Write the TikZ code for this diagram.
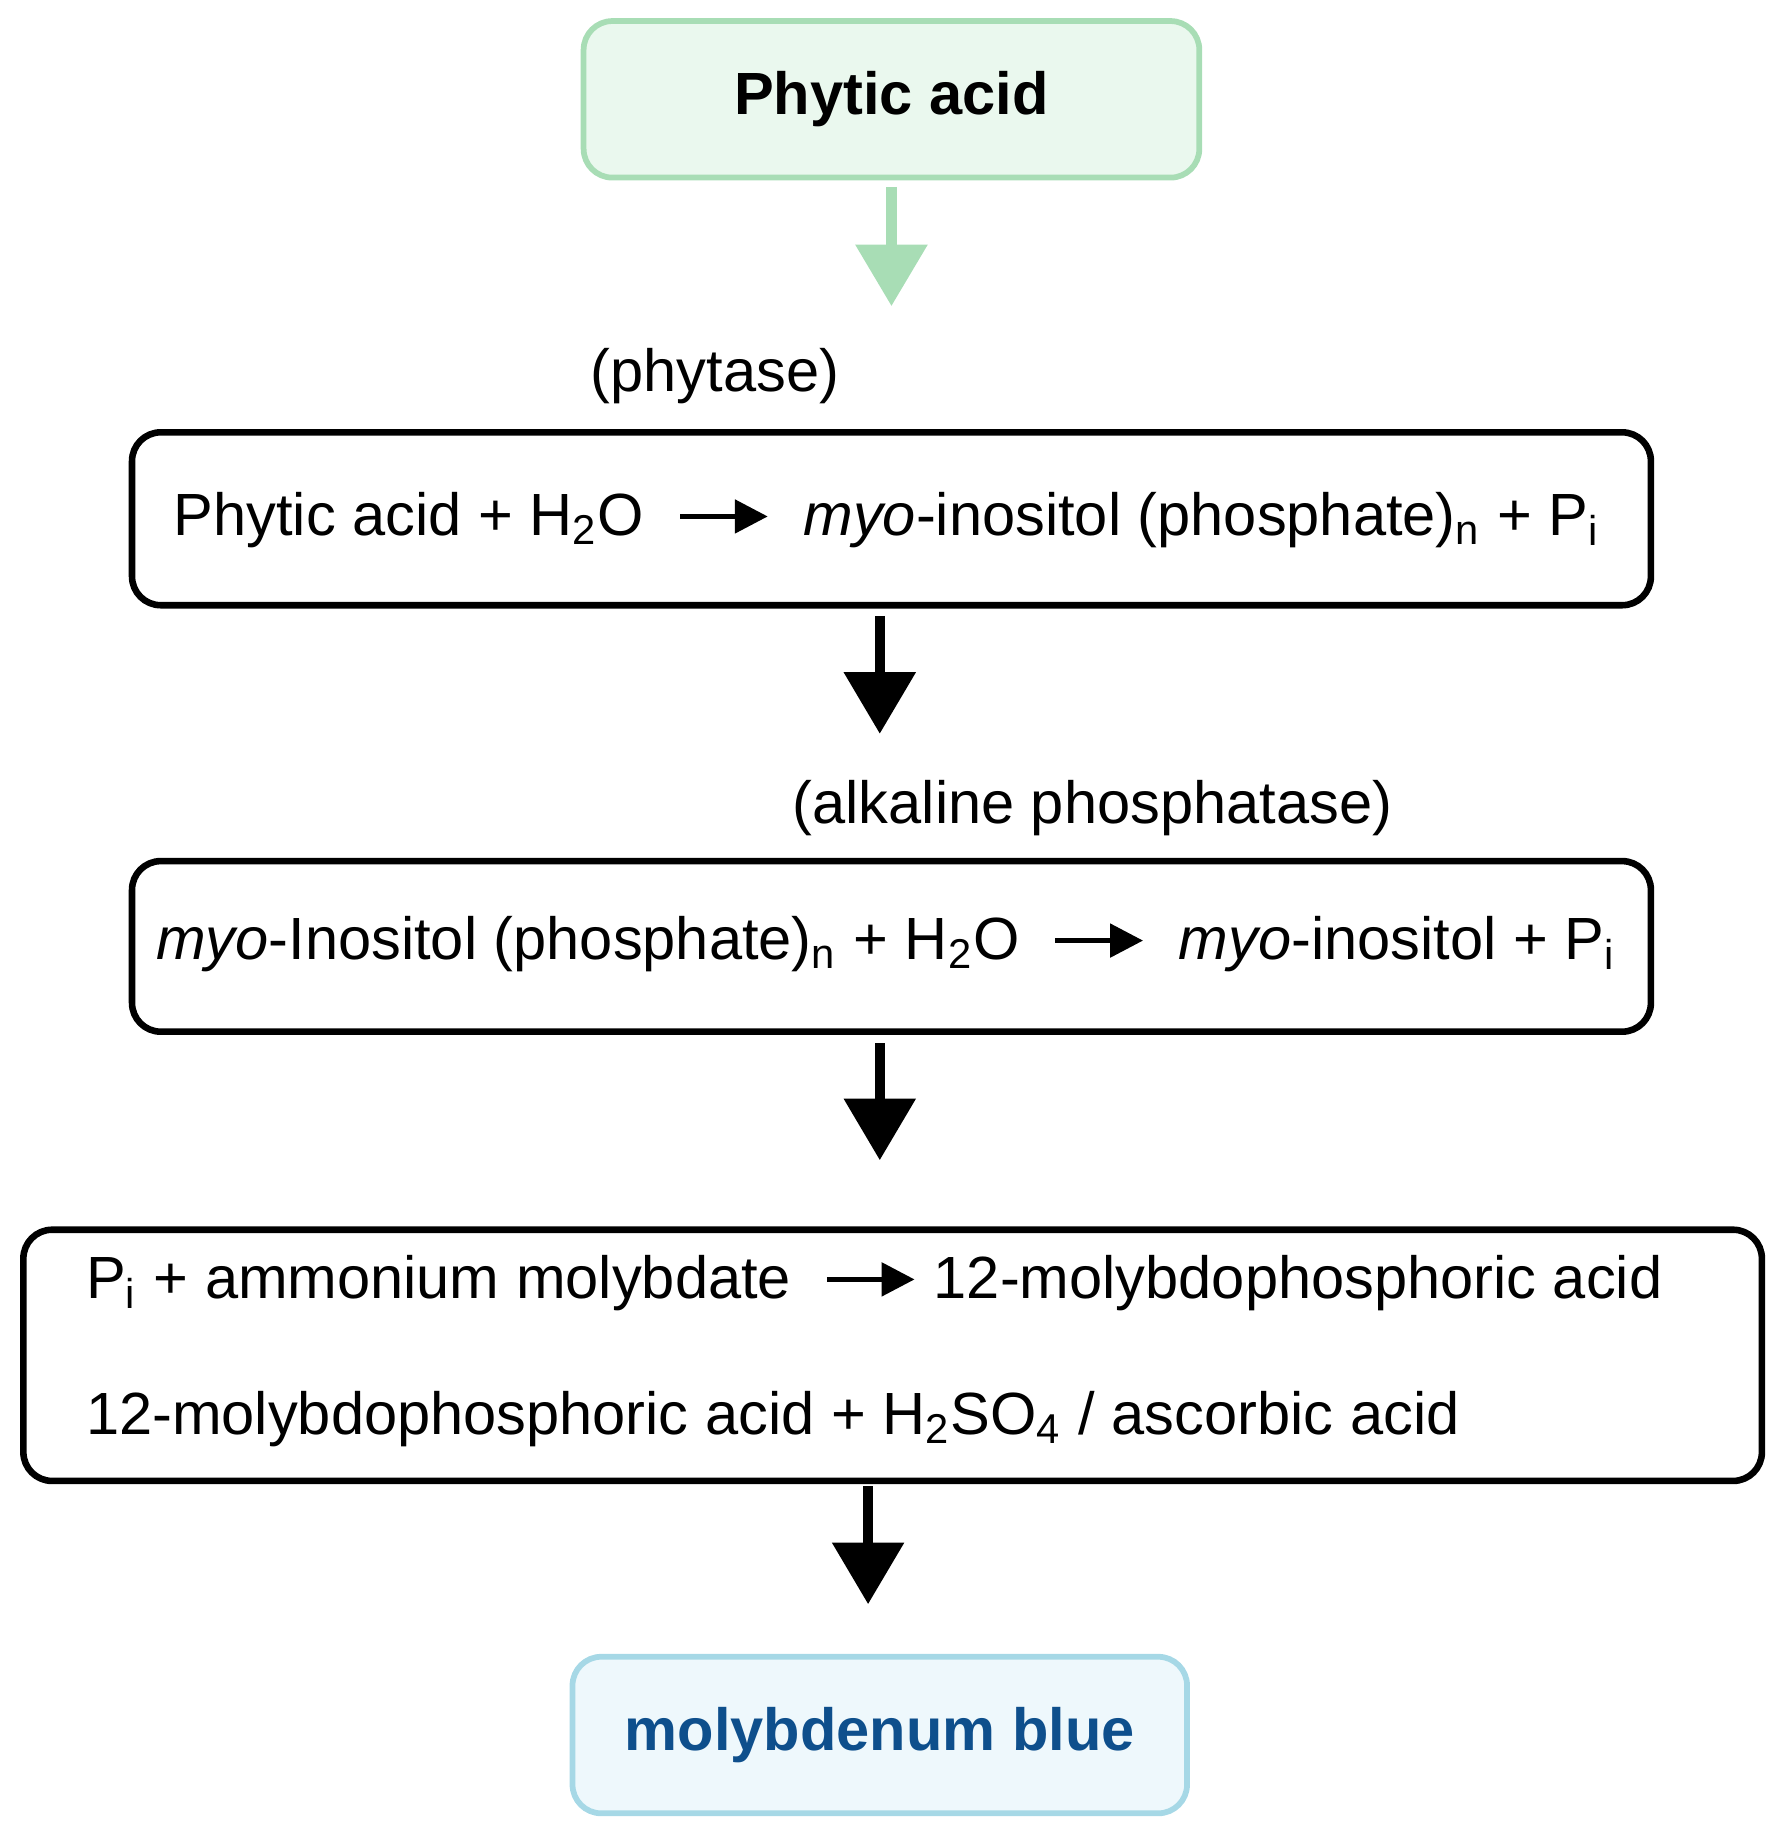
\documentclass[tikz,border=0pt]{standalone}
\usepackage{fontspec}
\setmainfont{Liberation Sans}
\usetikzlibrary{arrows.meta}
\definecolor{gfill}{HTML}{EAF8EE}
\definecolor{gline}{HTML}{A8DDB5}
\definecolor{bfill}{HTML}{EEF8FC}
\definecolor{bline}{HTML}{A6D8E6}
\definecolor{dblue}{HTML}{0E4F8C}
\newcommand{\rarr}{\tikz[baseline=-0.6ex,x=1cm,y=1cm]\draw[line width=1.3pt,-{Triangle[length=8pt,width=8pt]}] (0,0)--(0.75,0);}
\begin{document}
\begin{tikzpicture}[x=0.01cm,y=-0.01cm,
  txt/.style={font=\fontsize{14.5}{17}\selectfont,inner sep=0pt},
  rbox/.style={draw,line width=1.6pt,rounded corners=7pt},
  barr/.style={line width=2.4pt,-{Triangle[length=15pt,width=17pt]}}]
\useasboundingbox (0,0) rectangle (1523,1568);
\node[draw=gline,fill=gfill,line width=1.4pt,rounded corners=7pt,minimum width=527*0.01cm,minimum height=134*0.01cm] (top) at (763,85) {\fontsize{14.5}{17}\selectfont\bfseries Phytic acid};
\coordinate (g1) at (763,160); \coordinate (g2) at (763,262);
\draw[gline,line width=2.6pt,-{Triangle[length=15pt,width=17pt]}] (g1)--(g2);
\node[txt] (l1) at (612,322) {(phytase)};
\node[rbox,minimum width=1300*0.01cm,minimum height=148*0.01cm] (b1) at (763,444) {};
\node[txt,anchor=west] (t1) at (148,445) {Phytic acid + H\textsubscript{2}O\ \ \rarr\ \ \textit{myo}-inositol (phosphate)\textsubscript{n} + P\textsubscript{i}};
\coordinate (a1) at (753,527); \coordinate (a2) at (753,628);
\draw[barr] (a1)--(a2);
\node[txt] (l2) at (935,692) {(alkaline phosphatase)};
\node[rbox,minimum width=1300*0.01cm,minimum height=146*0.01cm] (b2) at (763,810) {};
\node[txt,anchor=west] (t2) at (133,808) {\textit{myo}-Inositol (phosphate)\textsubscript{n} + H\textsubscript{2}O\ \ \rarr\ \ \textit{myo}-inositol + P\textsubscript{i}};
\coordinate (a3) at (753,893); \coordinate (a4) at (753,993);
\draw[barr] (a3)--(a4);
\node[rbox,minimum width=1488*0.01cm,minimum height=215*0.01cm] (b3) at (764,1160) {};
\node[txt,anchor=west] (t3) at (73,1098) {P\textsubscript{i} + ammonium molybdate\ \ \rarr\ 12-molybdophosphoric acid};
\node[txt,anchor=west] (t4) at (73,1215) {12-molybdophosphoric acid + H\textsubscript{2}SO\textsubscript{4} / ascorbic acid};
\coordinate (a5) at (743,1272); \coordinate (a6) at (743,1373);
\draw[barr] (a5)--(a6);
\node[draw=bline,fill=bfill,line width=1.4pt,rounded corners=7pt,minimum width=526*0.01cm,minimum height=134*0.01cm] (bot) at (753,1485) {\fontsize{14.5}{17}\selectfont\bfseries\color{dblue}molybdenum blue};
\end{tikzpicture}
\end{document}
